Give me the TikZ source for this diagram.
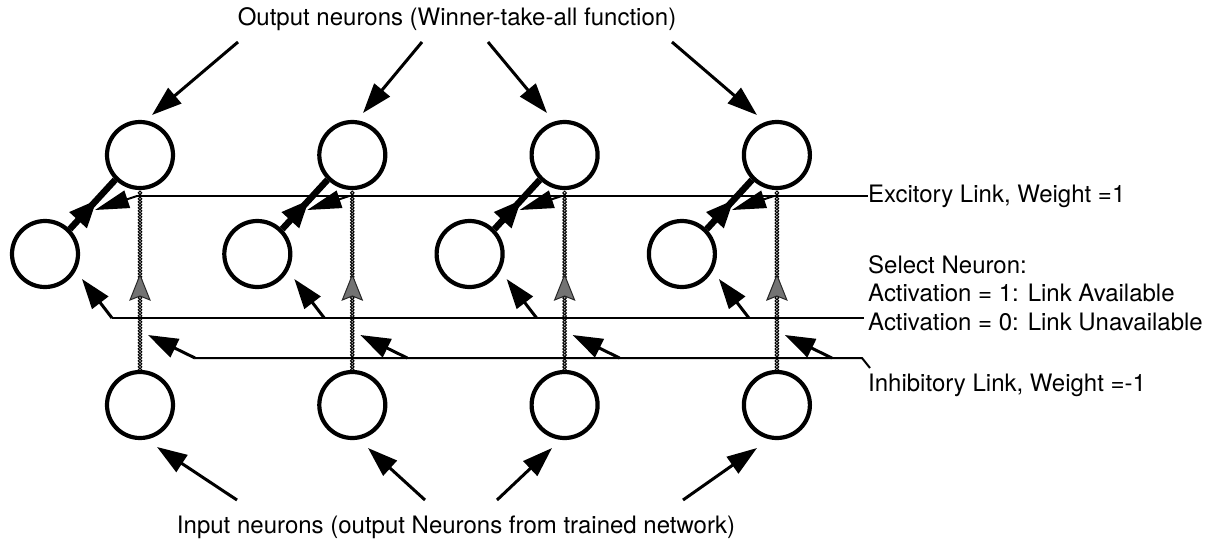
\documentclass[tikz,border=0pt]{standalone}
\usepackage{fontspec}
\setmainfont{TeX Gyre Heros}
\usetikzlibrary{arrows.meta,patterns,decorations.markings,calc}
\begin{document}
\begin{tikzpicture}[x=1pt,y=-1pt,
  neuron/.style={circle, draw, line width=4.2pt, minimum size=66pt, inner sep=0pt},
  arr/.style={line width=3pt, -{Triangle[length=30pt,width=20pt]}},
  exarr/.style={line width=2pt, -{Triangle[length=34pt,width=18pt]}},
  thicklink/.style={line width=6.5pt, postaction={decorate},
    decoration={markings, mark=at position 0.6 with {\arrow{Triangle[length=28pt,width=22pt]}}}},
  chainline/.style={postaction={decorate},
    decoration={markings, mark=between positions 0 and 1 step 3pt with {\draw[line width=1pt] (0,0) circle (1.8pt);}}},
  chainhead/.style={fill=black!55, draw=black!85, line width=1pt},
  wire/.style={line width=2pt},
  lbl/.style={font=\fontsize{24}{28.5}\selectfont, inner sep=0pt}
]
\useasboundingbox (0,0) rectangle (1212,552);

% titles
\node[lbl] (top) at (457,19) {Output neurons (Winner-take-all function)};
\node[lbl] (bot) at (456,527) {Input neurons (output Neurons from trained network)};

\foreach \i in {0,...,3}{
  \pgfmathsetmacro\d{212.3*\i}
  \node[neuron] (T\i) at (140+\d,155) {};
  \node[neuron] (S\i) at (45+\d,254) {};
  \node[neuron] (I\i) at (140+\d,405) {};
  % select -> output link
  \draw[thicklink] (S\i.45) -- (T\i.225);
  % chain line from input to output
  \path[chainline] (I\i.north) -- (T\i.south);
  \filldraw[chainhead]
    (140+\d,275) -- (150+\d,300) -- (140+\d,296) -- (130+\d,300) -- cycle;
  % excitatory arrow
  \coordinate (ea\i) at (137+\d,196);
  \coordinate (eb\i) at (95+\d,210);
  \draw[exarr] (ea\i) -- (eb\i);
  % select arrow
  \coordinate (sa\i) at (112+\d,318);
  \coordinate (sb\i) at (82+\d,279);
  \draw[arr] (sa\i) -- (sb\i);
  % inhibitory arrow
  \coordinate (ia\i) at (195+\d,358);
  \coordinate (ib\i) at (148+\d,335);
  \draw[arr] (ia\i) -- (ib\i);
}

% top input arrows
\coordinate (t0) at (238,42); \draw[arr] (t0) -- (152,115);
\coordinate (t1) at (422,42); \draw[arr] (t1) -- (363,113);
\coordinate (t2) at (488,42); \draw[arr] (t2) -- (547,113);
\coordinate (t3) at (672,42); \draw[arr] (t3) -- (757,115);

% bottom input arrows
\coordinate (b0) at (237,500); \draw[arr] (b0) -- (157,447);
\coordinate (b1) at (425,500); \draw[arr] (b1) -- (368,448);
\coordinate (b2) at (497,500); \draw[arr] (b2) -- (552,448);
\coordinate (b3) at (683,500); \draw[arr] (b3) -- (757,448);

% labels on the right
\node[lbl, anchor=west] (exl) at (868,196) {Excitory Link, Weight =1};
\node[lbl, anchor=west, align=left] (sel) at (868,293) {Select Neuron:\\Activation = 1: Link Available\\Activation = 0: Link Unavailable};
\node[lbl, anchor=west] (inl) at (868,385) {Inhibitory Link, Weight =-1};
\coordinate (selend) at (864,318);
\coordinate (inend) at (870,368);

% horizontal wires
\draw[wire] (ea0) -- (exl.west);
\draw[wire] (sa0) -- (selend);
\draw[wire] (ia0) -- (862,358) -- (inend);
\end{tikzpicture}
\end{document}
